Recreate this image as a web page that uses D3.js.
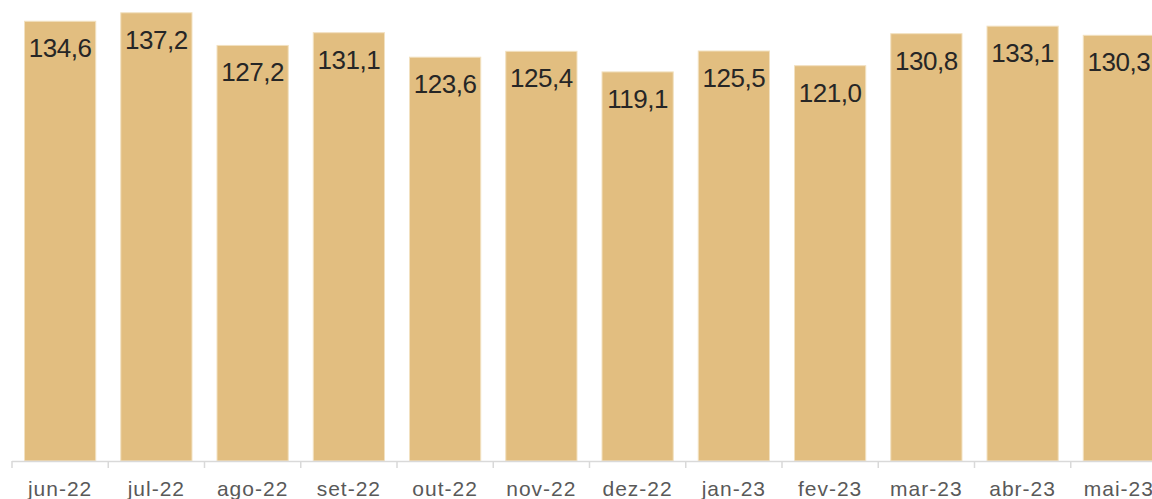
<!DOCTYPE html>
<html>
<head>
<meta charset="utf-8">
<script src="https://cdn.jsdelivr.net/npm/d3@7"></script>
<style>
  body { margin: 0; background: #fff; }
  svg { display: block; font-family: "Liberation Sans", Arial, sans-serif; }
</style>
</head>
<body>
<div id="chart"></div>
<script>
// data
var months = ["jun-22", "jul-22", "ago-22", "set-22", "out-22", "nov-22",
  "dez-22", "jan-23", "fev-23", "mar-23", "abr-23", "mai-23"];
var values = [134.6, 137.2, 127.2, 131.1, 123.6, 125.4,
  119.1, 125.5, 121.0, 130.8, 133.1, 130.3];

var svgWidth = 1152;
var svgHeight = 499;
var baseY = 461;

var svg = d3.select("#chart")
  .append("svg")
  .attr("width", svgWidth)
  .attr("height", svgHeight);

var data = months.map(function(m, i) { return { month: m, value: values[i] }; });

// band scale, step ~96.25px starting at x=12
var x = d3.scaleBand()
  .domain(months)
  .range([12, 12 + 96.25 * months.length])
  .paddingInner(0.26)
  .paddingOuter(0.13);

var y = d3.scaleLinear()
  .domain([0, 140])
  .range([baseY, baseY - 140 * 3.267]);

// bars
svg.selectAll("rect.bar")
  .data(data)
  .enter()
  .append("rect")
  .attr("class", "bar")
  .attr("x", d => x(d.month))
  .attr("y", d => y(d.value))
  .attr("width", x.bandwidth())
  .attr("height", d => baseY - y(d.value))
  .attr("fill", "#e2be80")
  .attr("stroke", "#f2e1c0")
  .attr("stroke-width", 1);

// value labels inside the top of each bar
svg.selectAll("text.val")
  .data(data)
  .enter()
  .append("text")
  .attr("class", "val")
  .attr("x", d => x(d.month) + x.bandwidth() / 2)
  .attr("y", d => y(d.value) + 36)
  .attr("text-anchor", "middle")
  .attr("font-size", "26px")
  .attr("letter-spacing", "-0.5px")
  .attr("fill", "#262626")
  .text(d => d3.format(".1f")(d.value).replace(".", ","));

// x axis: line with ticks at band boundaries
var axisG = svg.append("g");
axisG.append("line")
  .attr("x1", 12)
  .attr("x2", svgWidth)
  .attr("y1", baseY + 0.5)
  .attr("y2", baseY + 0.5)
  .attr("stroke", "#d9d9d9")
  .attr("stroke-width", 1.5);

axisG.selectAll("line.tick")
  .data(months)
  .enter()
  .append("line")
  .attr("class", "tick")
  .attr("x1", d => x(d) - x.step() * x.paddingInner() / 2)
  .attr("x2", d => x(d) - x.step() * x.paddingInner() / 2)
  .attr("y1", baseY)
  .attr("y2", baseY + 7)
  .attr("stroke", "#d9d9d9")
  .attr("stroke-width", 1.5);

axisG.selectAll("text.cat")
  .data(months)
  .enter()
  .append("text")
  .attr("class", "cat")
  .attr("x", d => x(d) + x.bandwidth() / 2)
  .attr("y", 496)
  .attr("text-anchor", "middle")
  .attr("font-size", "21px")
  .attr("letter-spacing", "1px")
  .attr("fill", "#595959")
  .text(d => d);
</script>
</body>
</html>
